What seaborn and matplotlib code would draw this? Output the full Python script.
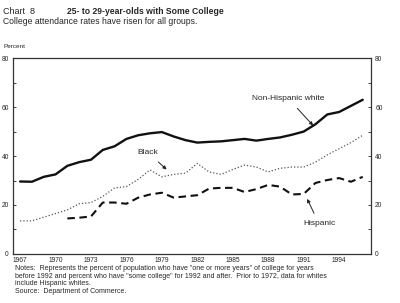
import numpy as np
import pandas as pd
import matplotlib
matplotlib.use("Agg")
import matplotlib.pyplot as plt
import seaborn as sns

years = list(range(1967, 1997))
white = [29.6, 29.5, 31.5, 32.5, 36, 37.5, 38.5, 42.5, 44, 47, 48.5, 49.3, 49.8, 48,
         46.5, 45.5, 45.8, 46, 46.5, 47, 46.3, 47, 47.6, 48.7, 50, 53, 57, 58, 60.5, 63]
black = [13.5, 13.5, 15, 16.5, 18, 20.5, 21, 23.5, 27, 27.5, 30.5, 34.3, 31.5, 32.5,
         33, 37, 33.5, 32.5, 34.5, 36.3, 35.5, 33.5, 35, 35.5, 35.5, 37.5, 40.5, 43, 45.5, 48.5]
hisp_years = list(range(1971, 1997))
hispanic = [14.5, 14.8, 15.3, 21, 21, 20.5, 23, 24.3, 25, 23, 23.5, 24, 26.7, 27, 27,
            25.3, 26.5, 28.2, 27.5, 24.3, 24.5, 29, 30.2, 31, 29.5, 31.5]
xtick_years = list(range(1967, 1995, 3))

df = pd.DataFrame({"year": years, "white": white, "black": black})
dh = pd.DataFrame({"year": hisp_years, "hispanic": hispanic})

sns.set_style("white")
plt.rcParams['font.family'] = ['Liberation Sans', 'DejaVu Sans']

fig = plt.figure(figsize=(4, 3.03), dpi=100)
ax = fig.add_axes([0.0325, 0.162, 0.895, 0.646])

sns.lineplot(data=df, x="year", y="white", ax=ax, color="#111111", lw=1.7)
sns.lineplot(data=df, x="year", y="black", ax=ax, color="#555555", lw=0.9,
             linestyle=(0, (1, 1.6)))
sns.lineplot(data=dh, x="year", y="hispanic", ax=ax, color="#111111", lw=1.5,
             linestyle=(0, (3.6, 2.2)))

ax.set_xlim(1966.4, 1996.7)
ax.set_ylim(0, 80)
ax.set_xlabel("")
ax.set_ylabel("")
ax.set_xticks(xtick_years)
ax.set_xticks(years, minor=True)
ax.set_xticklabels([str(y) for y in xtick_years], fontsize=4.8)
ax.set_yticks([0, 20, 40, 60, 80])
ax.set_yticks(range(0, 81, 10), minor=True)
ax.tick_params(axis="x", which="major", direction="in", length=4, width=0.6,
               pad=2, top=False)
ax.tick_params(axis="x", which="minor", direction="in", length=2.5, width=0.6, top=False)
ax.tick_params(axis="y", which="both", direction="in", length=2.5, width=0.6,
               labelsize=4.8, left=True, right=True, labelright=True, pad=3)
for s in ax.spines.values():
    s.set_linewidth(0.9)
    s.set_color("#333333")

arrow = dict(arrowstyle="-|>", color="#222222", lw=0.7, mutation_scale=5,
             shrinkA=3, shrinkB=0)
ax.annotate("Non-Hispanic white", xy=(1991.8, 52.5), xytext=(1989.7, 63.5),
            fontsize=6, ha="center", va="center", arrowprops=arrow)
ax.annotate("Black", xy=(1979.4, 34.5), xytext=(1977.8, 41.5),
            fontsize=6, ha="center", va="center", arrowprops=arrow)
ax.annotate("Hispanic", xy=(1991.3, 22.5), xytext=(1992.3, 12.3),
            fontsize=6, ha="center", va="center", arrowprops=arrow)

fig.text(0.008, 0.962, "Chart  8", fontsize=6.5, va="center", ha="left")
fig.text(0.167, 0.962, "25- to 29-year-olds with Some College", fontsize=6.2,
         fontweight="bold", va="center", ha="left")
fig.text(0.008, 0.93, "College attendance rates have risen for all groups.",
         fontsize=6.2, va="center", ha="left")
fig.text(0.008, 0.848, "Percent", fontsize=4.6, va="center", ha="left")

notes = ('Notes:  Represents the percent of population who have "one or more years" of college for years\n'
         'before 1992 and percent who have "some college" for 1992 and after.  Prior to 1972, data for whites\n'
         'include Hispanic whites.\n'
         'Source:  Department of Commerce.')
fig.text(0.037, 0.125, notes, fontsize=5.0, va="top", ha="left", linespacing=1.1)

fig.savefig("out.png", dpi=100, facecolor="white")
